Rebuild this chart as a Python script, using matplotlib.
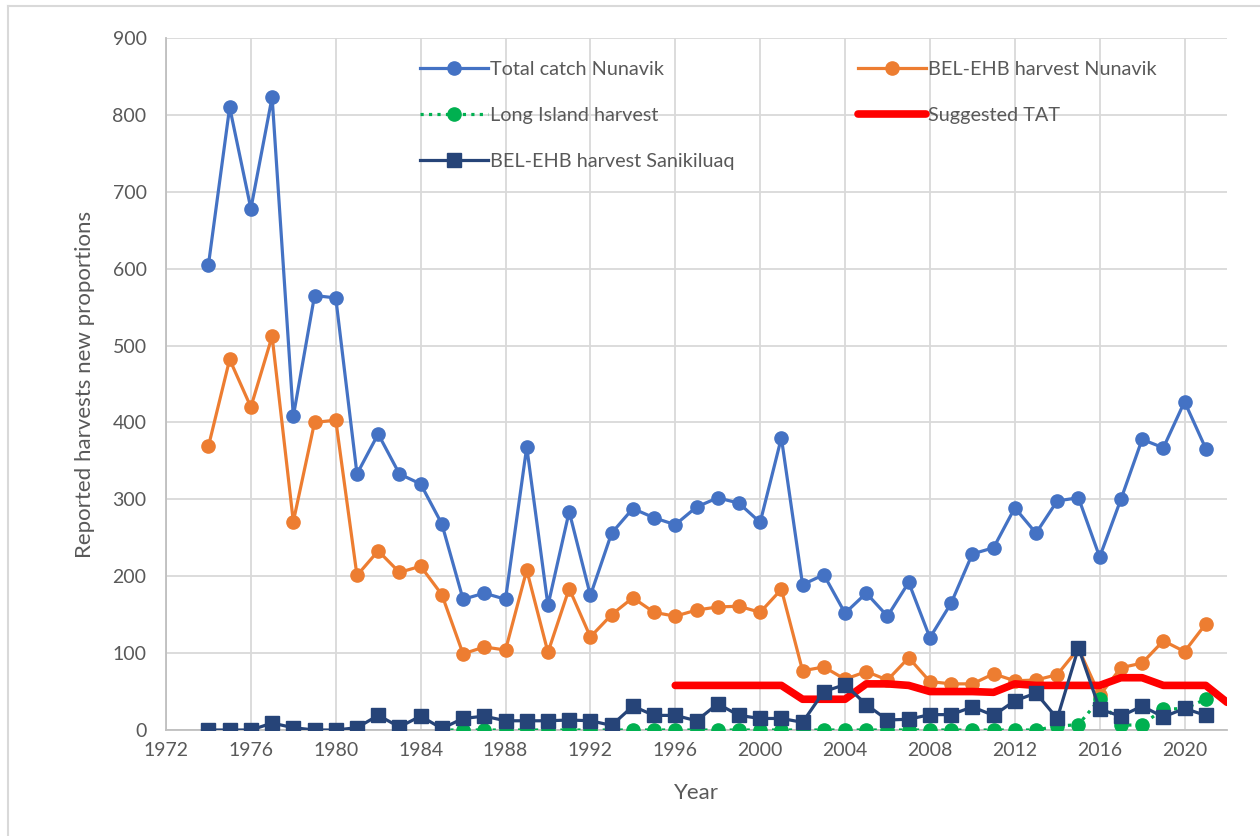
import matplotlib.pyplot as plt
from matplotlib.lines import Line2D

plt.rcParams['font.family'] = ['Lato', 'DejaVu Sans']

years = list(range(1974, 2022))
total_nunavik = [605, 810, 678, 823, 408, 565, 562, 333, 385, 333, 320, 268,
                 170, 178, 170, 368, 162, 284, 175, 256, 288, 276, 267, 290,
                 302, 295, 270, 380, 189, 202, 152, 178, 148, 192, 120, 165,
                 229, 237, 289, 256, 298, 302, 225, 300, 378, 367, 427, 366]
bel_nunavik = [369, 482, 420, 512, 271, 400, 403, 201, 233, 205, 213, 176,
               99, 108, 104, 208, 101, 184, 121, 150, 172, 153, 148, 156,
               160, 161, 153, 183, 77, 82, 66, 76, 65, 94, 63, 60,
               60, 73, 64, 65, 72, 106, 45, 81, 87, 116, 102, 138]
sanikiluaq = [0, 0, 0, 9, 3, 0, 0, 3, 19, 4, 18, 2,
              15, 18, 12, 12, 12, 13, 12, 6, 31, 19, 19, 12,
              34, 19, 15, 15, 10, 50, 59, 33, 13, 14, 20, 20,
              30, 19, 38, 48, 15, 107, 27, 18, 31, 17, 28, 19]

li_years = list(range(1985, 2022))
long_island = [0] * 29 + [5, 7, 40, 6, 7, 27, 28, 40]

tat_years = list(range(1996, 2023))
tat = [58, 58, 58, 58, 58, 58, 40, 40, 40, 60, 60, 58, 50, 50, 50, 49,
       60, 58, 58, 58, 58, 68, 68, 58, 58, 58, 36]

c_blue = '#4472C4'
c_orange = '#ED7D31'
c_green = '#00B050'
c_navy = '#264478'
c_red = '#FF0000'
c_text = '#595959'

fig = plt.figure(figsize=(12.6, 8.36), dpi=100)
ax = fig.add_axes([166 / 1260, 1 - 730 / 836, (1227 - 166) / 1260, (730 - 38) / 836])

l1, = ax.plot(years, total_nunavik, color=c_blue, lw=2.3, marker='o', ms=9.5,
              label='Total catch Nunavik', zorder=3)
l2, = ax.plot(years, bel_nunavik, color=c_orange, lw=2.3, marker='o', ms=9.5,
              label='BEL-EHB harvest Nunavik', zorder=4)
l3, = ax.plot(li_years, long_island, color=c_green, lw=2.3, ls=':', marker='o', ms=9.5,
              label='Long Island harvest', zorder=5)
l4, = ax.plot(tat_years, tat, color=c_red, lw=5.5, solid_capstyle='round',
              solid_joinstyle='round', label='Suggested TAT', zorder=6)
l5, = ax.plot(years, sanikiluaq, color=c_navy, lw=2.3, marker='s', ms=10,
              label='BEL-EHB harvest Sanikiluaq', zorder=7)

ax.set_xlim(1972, 2022)
ax.set_ylim(0, 900)
ax.set_xticks(range(1972, 2021, 4))
ax.set_yticks(range(0, 901, 100))
ax.grid(True, color='#D9D9D9', lw=1.3)
ax.set_axisbelow(True)
for s in ['top', 'right']:
    ax.spines[s].set_visible(False)
for s in ['left', 'bottom']:
    ax.spines[s].set_color('#BFBFBF')
    ax.spines[s].set_linewidth(1.3)
ax.tick_params(axis='y', length=0, pad=14, labelsize=14, labelcolor=c_text)
ax.tick_params(axis='x', length=0, pad=9, labelsize=14, labelcolor=c_text)
ax.set_xlabel('Year', fontsize=16, color=c_text)
ax.set_ylabel('Reported harvests new proportions', fontsize=16, color=c_text)
ax.yaxis.set_label_coords(-0.067, 0.5)
ax.xaxis.set_label_coords(0.5, -0.077)

ax.legend(handles=[l1, l3, l5, l2, l4], ncol=2, frameon=False, loc='upper left',
          bbox_to_anchor=(0.2226, 0.992), fontsize=14.3, labelcolor=c_text,
          handlelength=3.4, handletextpad=0.1, columnspacing=6.25, labelspacing=1.45)

# chart area border (left and top only visible in the crop)
fig.add_artist(Line2D([8 / 1260, 8 / 1260], [0, 1 - 6 / 836], color='#D9D9D9', lw=1.5))
fig.add_artist(Line2D([8 / 1260, 1], [1 - 6 / 836, 1 - 6 / 836], color='#D9D9D9', lw=1.5))

fig.savefig('out.png', dpi=100)
